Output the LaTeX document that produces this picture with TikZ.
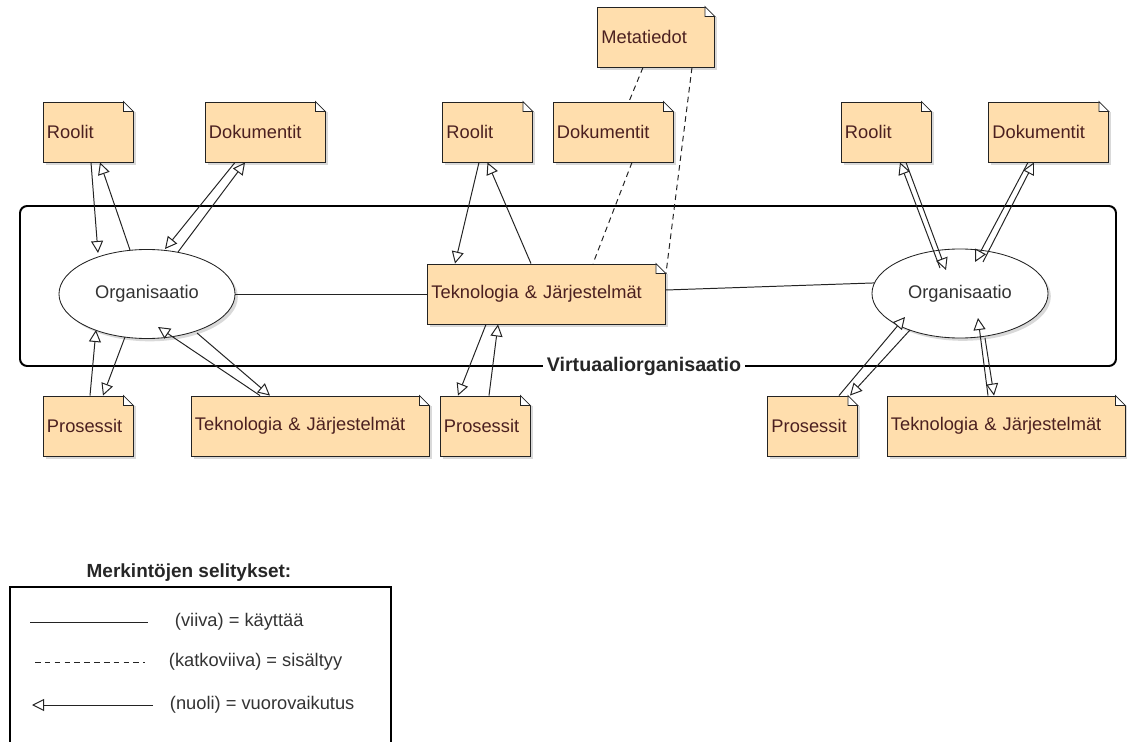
\documentclass[tikz,border=0pt]{standalone}
\usepackage{fontspec}
\setmainfont{Liberation Sans}
\usetikzlibrary{arrows.meta, positioning, shapes.geometric, shadows, calc}
\definecolor{NoteFill}{RGB}{255,222,173}
\definecolor{NoteText}{RGB}{75,32,32}
\definecolor{LineGrey}{RGB}{35,35,35}
\begin{document}
\begin{tikzpicture}[x=0.025cm, y=-0.025cm,
  note/.style={rectangle, draw=LineGrey, line width=0.6pt, fill=NoteFill, text=NoteText, font=\fontsize{13}{15}\selectfont, align=left, text width=#1, inner xsep=0.1cm, minimum height=1.5cm, drop shadow={shadow xshift=0.07cm, shadow yshift=-0.07cm, opacity=0.3}},
  org/.style={ellipse, draw=LineGrey, line width=0.6pt, fill=white, minimum width=4.4cm, minimum height=2.225cm, font=\fontsize{13}{15}\selectfont, text=black!80, drop shadow={shadow xshift=0.07cm, shadow yshift=-0.07cm, opacity=0.3}},
  use/.style={LineGrey, line width=0.7pt},
  incl/.style={use, dash pattern=on 4pt off 3pt},
  inter/.style={use, -{Triangle[open, length=0.3cm, width=0.3cm, fill=white]}},
  frame/.style={black, line width=1.4pt, rounded corners=0.18cm},
  vlab/.style={font=\fontsize{14}{16}\selectfont\bfseries, text=black!85, fill=white, inner xsep=3pt},
  leg/.style={font=\fontsize{13}{15}\selectfont, text=black!80, anchor=west}]
\useasboundingbox (0,0) rectangle (1127,742);
\draw[frame] (20,206) rectangle (1116,366);
\node[vlab] (vo) at (644,366) {Virtuaaliorganisaatio};
\node[note=2.05cm] (ro1) at (88,132) {Roolit};
\node[note=2.8cm] (do1) at (265,132) {Dokumentit};
\node[org] (org1) at (147,294) {Organisaatio};
\node[note=2.05cm] (pr1) at (88,426) {Prosessit};
\node[note=5.75cm] (tk1) at (310,426) {Teknologia \& Järjestelmät};
\node[note=2.725cm] (mt) at (656,37) {Metatiedot};
\node[note=2.05cm] (ro2) at (487.5,132) {Roolit};
\node[note=2.8cm] (do2) at (613,132) {Dokumentit};
\node[note=5.75cm] (tk2) at (546.5,294) {Teknologia \& Järjestelmät};
\node[note=2.05cm] (pr2) at (485,426) {Prosessit};
\node[note=2.05cm] (ro3) at (886,132) {Roolit};
\node[note=2.8cm] (do3) at (1048.5,132) {Dokumentit};
\node[org] (org2) at (960,293.5) {Organisaatio};
\node[note=2.05cm] (pr3) at (812.5,426) {Prosessit};
\node[note=5.75cm] (tk3) at (1006,426) {Teknologia \& Järjestelmät};
\foreach \n in {ro1,do1,pr1,tk1,mt,ro2,do2,tk2,pr2,ro3,do3,pr3,tk3}{
  \fill[white] ($(\n.north east)+(-0.25cm,0.5pt)$) rectangle ($(\n.north east)+(0.1cm,-0.25cm)$);
  \draw[LineGrey, line width=0.6pt, fill=white] ($(\n.north east)+(-0.25cm,0)$) -- ++(0,-0.25cm) -- ++(0.25cm,0) -- cycle;
}
\draw[inter] ($(ro1.south)+(3,0)$) -- ($(org1)+(-49,-41)$);
\draw[inter] ($(org1)+(-17,-44)$) -- ($(ro1.south)+(12,0)$);
\draw[inter] ($(do1.south)+(-30,0)$) -- ($(org1)+(18,-45)$);
\draw[inter] ($(org1)+(31,-42)$) -- ($(do1.south)+(-20,0)$);
\draw[inter] ($(pr1.north)+(2,0)$) -- ($(org1)+(-51,36)$);
\draw[inter] ($(org1)+(-22,43)$) -- ($(pr1.north)+(15,0)$);
\draw[inter] ($(org1)+(50,39)$) -- ($(tk1.north)+(-40,0)$);
\draw[inter] ($(tk1.north)+(-50,0)$) -- ($(org1)+(11,33)$);
\draw[use] (org1.east) -- (tk2.west);
\draw[inter] ($(ro2.south)+(-8.5,0)$) -- ($(tk2.north)+(-91.5,0)$);
\draw[inter] ($(tk2.north)+(-15.5,0)$) -- (ro2.south);
\draw[incl] ($(mt.south)+(-13,0)$) -- ($(do2.north)+(16,0)$);
\draw[incl] ($(mt.south)+(36,0)$) -- ($(tk2.north east)+(0,10)$);
\draw[incl] ($(do2.south)+(19,0)$) -- ($(tk2.north)+(46.5,0)$);
\draw[inter] ($(tk2.south)+(-60.5,0)$) -- ($(pr2.north)+(-27,0)$);
\draw[inter] ($(pr2.north)+(4,0)$) -- ($(tk2.south)+(-48.5,0)$);
\draw[use] ($(tk2.east)+(0,-4)$) -- (org2.173);
\draw[inter] ($(ro3.south)+(20,0)$) -- ($(org2)+(-14,-23.5)$);
\draw[inter] ($(org2)+(-20,-25.5)$) -- ($(ro3.south)+(14,0)$);
\draw[inter] ($(do3.south)+(-20.5,0)$) -- ($(org2)+(15,-31.5)$);
\draw[inter] ($(org2)+(23,-31.5)$) -- ($(do3.south)+(-14.5,0)$);
\draw[inter] ($(pr3.north)+(26.5,0)$) -- ($(org2)+(-55,23.5)$);
\draw[inter] ($(org2)+(-50,36.5)$) -- ($(pr3.north)+(37.5,0)$);
\draw[inter] ($(tk3.north)+(-18,0)$) -- ($(org2)+(18,24.5)$);
\draw[inter] ($(org2)+(25,44.5)$) -- ($(tk3.north)+(-12,0)$);
\node[font=\fontsize{13.5}{16}\selectfont\bfseries, text=black!85] (lt) at (189,573) {Merkintöjen selitykset:};
\draw[black, line width=1.4pt] (10,750) |- (391,587) -- (391,750);
\coordinate (l1a) at (30,622); \coordinate (l1b) at (148,622);
\coordinate (l2a) at (35,662); \coordinate (l2b) at (145,662);
\coordinate (l3a) at (153,705); \coordinate (l3b) at (32,705);
\draw[use] (l1a) -- (l1b); \draw[incl] (l2a) -- (l2b); \draw[inter] (l3a) -- (l3b);
\node[leg] (t1) at (170,622) {(viiva) = käyttää};
\node[leg] (t2) at (164,662) {(katkoviiva) = sisältyy};
\node[leg] (t3) at (165,705) {(nuoli) = vuorovaikutus};
\end{tikzpicture}
\end{document}
